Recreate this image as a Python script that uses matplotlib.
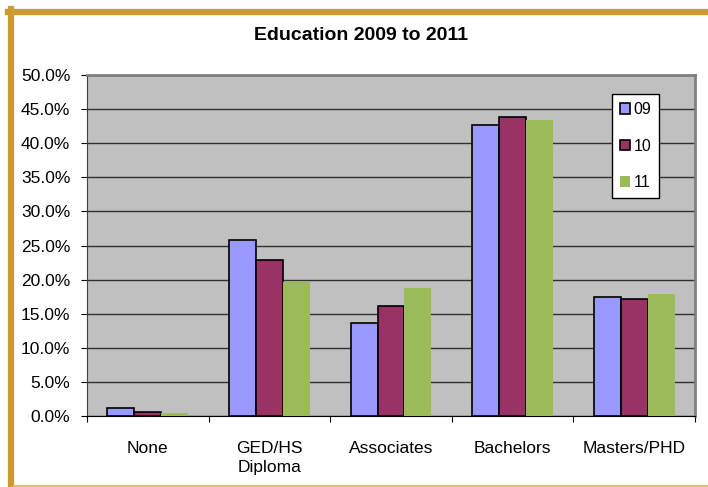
import matplotlib.pyplot as plt
import numpy as np
from matplotlib.patches import Rectangle
from matplotlib.lines import Line2D

plt.rcParams['font.family'] = ['Liberation Sans', 'DejaVu Sans']

categories = ['None', 'GED/HS\nDiploma', 'Associates', 'Bachelors', 'Masters/PHD']
years = ['09', '10', '11']
pct_09 = [1.2, 25.8, 13.6, 42.6, 17.4]
pct_10 = [0.6, 22.9, 16.1, 43.9, 17.1]
pct_11 = [0.5, 19.6, 18.8, 43.4, 17.9]

colors = ['#9999FF', '#993366', '#9BBB59']
edges = ['black', 'black', 'none']

fig = plt.figure(figsize=(7.08, 4.87), dpi=100)
ax = fig.add_axes([87 / 708, 1 - 416 / 487, 608 / 708, 341 / 487])
ax.set_facecolor('#C0C0C0')

x = np.arange(len(categories)) + 0.5
w = 0.222
for i, vals in enumerate([pct_09, pct_10, pct_11]):
    ax.bar(x + (i - 1) * w, vals, w, color=colors[i], edgecolor=edges[i],
           linewidth=1.2, label=years[i], zorder=3)

ax.set_xlim(0, len(categories))
ax.set_ylim(0, 50)
ax.set_yticks(np.arange(0, 50.1, 5))
ax.set_yticklabels([f'{v:.1f}%' for v in np.arange(0, 50.1, 5)], fontsize=12.5)
ax.yaxis.grid(True, color='#303030', linewidth=1, zorder=1)
ax.set_axisbelow(True)

# category boundaries get the ticks, names sit between them
ax.set_xticks(np.arange(len(categories) + 1))
ax.set_xticklabels([])
ax.set_xticks(x, minor=True)
ax.set_xticklabels(categories, minor=True, fontsize=12.5, linespacing=1.35)
ax.tick_params(axis='x', which='minor', length=0, pad=18)
ax.tick_params(axis='x', which='major', length=4, color='black')
ax.tick_params(axis='y', length=4, pad=8, color='black')

for side in ['top', 'right']:
    ax.spines[side].set_color('#808080')
    ax.spines[side].set_linewidth(2)
ax.spines['left'].set_color('#404040')
ax.spines['bottom'].set_color('black')

handles = [Rectangle((0, 0), 1, 1, facecolor=colors[i], edgecolor=edges[i], linewidth=1.2)
           for i in range(3)]
ax.legend(handles, years, loc='upper right', bbox_to_anchor=(659 / 708, 1 - 94 / 487),
          bbox_transform=fig.transFigure, frameon=True, fancybox=False, framealpha=1,
          edgecolor='black', fontsize=11.5, handlelength=0.65, handleheight=0.65,
          handletextpad=0.2, labelspacing=1.35, borderpad=0.5, borderaxespad=0)

fig.text(0.5 * (14 + 708) / 708, 1 - 36 / 487, 'Education 2009 to 2011',
         ha='center', va='center', fontsize=14, fontweight='bold')

# gold frame on the left, top and bottom
fig.add_artist(Line2D([11 / 708, 11 / 708], [1 - 9 / 487, 0], color='#CC9933',
                      linewidth=4.5, transform=fig.transFigure))
fig.add_artist(Line2D([8 / 708, 1], [1 - 12 / 487, 1 - 12 / 487], color='#CC9933',
                      linewidth=4.5, transform=fig.transFigure))
fig.add_artist(Line2D([14 / 708, 1], [1 - 486 / 487, 1 - 486 / 487], color='#E6C06A',
                      linewidth=1.5, transform=fig.transFigure))

fig.savefig('out.png', dpi=100)
